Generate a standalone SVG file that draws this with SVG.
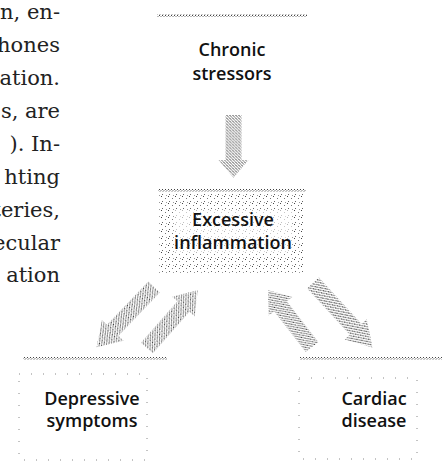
<svg xmlns="http://www.w3.org/2000/svg" width="442" height="476" viewBox="0 0 442 476">
  <defs>
    <pattern id="pArrow" width="3" height="3" patternUnits="userSpaceOnUse">
      <rect x="0" y="0" width="1" height="1" fill="#3a3a3a"/>
      <rect x="1" y="2" width="1" height="1" fill="#666"/>
      <rect x="2" y="1" width="1" height="1" fill="#888"/>
    </pattern>
    <pattern id="pBand" width="3" height="3" patternUnits="userSpaceOnUse">
      <rect x="0" y="0" width="1" height="1" fill="#444"/>
      <rect x="1.5" y="1" width="1" height="1" fill="#777"/>
      <rect x="0.5" y="2" width="1" height="1" fill="#999"/>
    </pattern>
    <pattern id="pBox" width="7" height="7" patternUnits="userSpaceOnUse">
      <rect x="0" y="0" width="1" height="1" fill="#444"/>
      <rect x="4" y="2" width="1" height="1" fill="#777"/>
      <rect x="1" y="5" width="1" height="1" fill="#666"/>
      <rect x="5" y="6" width="1" height="1" fill="#999"/>
    </pattern>
    <path id="arr" d="M0,-8 L46,-8 L46,-15 L64,0 L46,15 L46,8 L0,8 Z"/>
  </defs>
  <style>
    .page { font-family: "DejaVu Serif", "Liberation Serif", serif; font-size: 21px; fill: #222; text-anchor: end; }
    .lbl { font-family: "Open Sans", "DejaVu Sans", sans-serif; font-weight: 600; font-size: 18px; fill: #111; text-anchor: middle; }
    .band { fill: url(#pBand); }
    .sparse { fill: none; stroke: #888; stroke-width: 1; stroke-dasharray: 1 11; }
    .arrow { fill: url(#pArrow); }
  </style>
  <rect width="442" height="476" fill="#fff"/>

  <g id="page-text">
    <text class="page" x="60" y="19">n, en-</text>
    <text class="page" x="60" y="52">hones</text>
    <text class="page" x="60" y="85">ation.</text>
    <text class="page" x="60" y="118">s, are</text>
    <text class="page" x="60" y="151">). In-</text>
    <text class="page" x="60" y="184">hting</text>
    <text class="page" x="60" y="217">teries,</text>
    <text class="page" x="60" y="250">ecular</text>
    <text class="page" x="60" y="282">ation</text>
  </g>

  <g id="node-chronic">
    <rect class="band" x="157" y="14" width="150" height="3"/>
    <text class="lbl" x="232" y="56">Chronic</text>
    <text class="lbl" x="232" y="80">stressors</text>
  </g>

  <g id="node-inflammation">
    <rect x="159" y="192" width="146" height="81" fill="url(#pBox)"/>
    <rect class="band" x="158" y="189" width="148" height="3"/>
    <rect x="174" y="210" width="118" height="44" fill="#fff" opacity="0.6"/>
    <text class="lbl" x="233" y="226">Excessive</text>
    <text class="lbl" x="233" y="249">inflammation</text>
  </g>

  <g id="node-depressive">
    <rect class="band" x="23" y="357" width="144" height="3"/>
    <rect class="sparse" x="19" y="374" width="128" height="86"/>
    <text class="lbl" x="92" y="405">Depressive</text>
    <text class="lbl" x="92" y="427">symptoms</text>
  </g>

  <g id="node-cardiac">
    <rect class="band" x="300" y="357" width="142" height="3"/>
    <rect class="sparse" x="299" y="378" width="118" height="81"/>
    <text class="lbl" x="374" y="405">Cardiac</text>
    <text class="lbl" x="374" y="427">disease</text>
  </g>

  <g id="connectors">
    <use href="#arr" class="arrow" transform="translate(233.5,115) rotate(90) scale(0.98,1)"/>
    <use href="#arr" class="arrow" transform="translate(154,287) rotate(133.6) scale(1.3,1)"/>
    <use href="#arr" class="arrow" transform="translate(147,348) rotate(-48.7) scale(1.2,1)"/>
    <use href="#arr" class="arrow" transform="translate(312,347) rotate(-127.7) scale(1.12,1)"/>
    <use href="#arr" class="arrow" transform="translate(313,283) rotate(47.3) scale(1.37,1)"/>
  </g>
</svg>
